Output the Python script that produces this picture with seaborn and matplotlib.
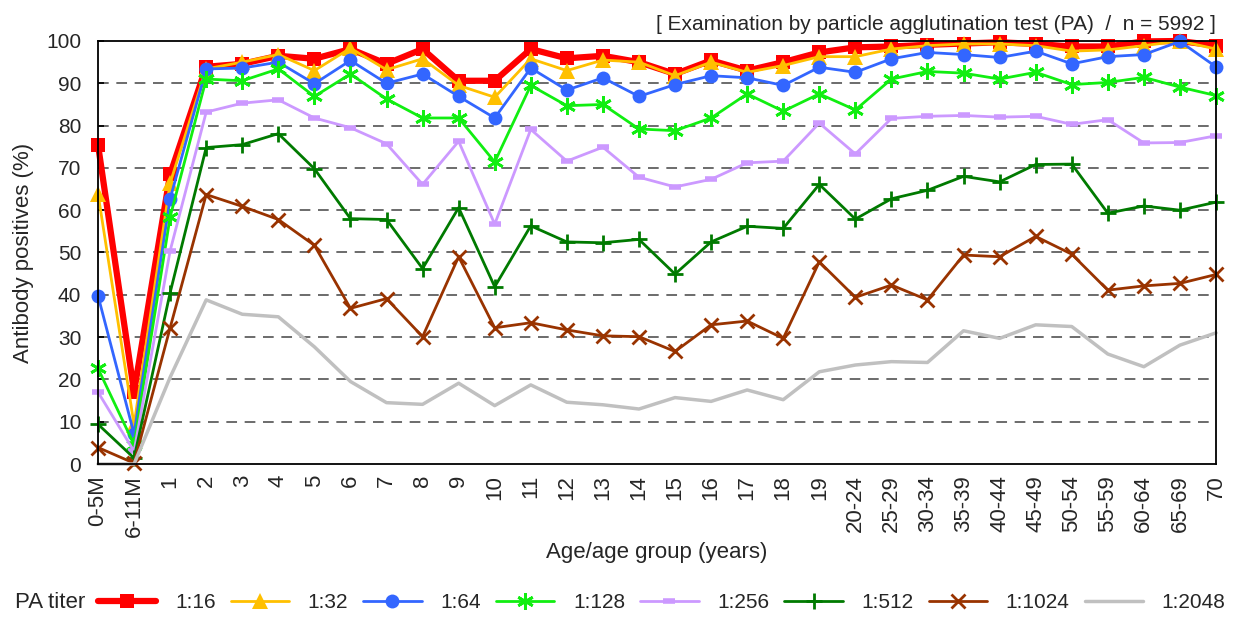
import numpy as np
import pandas as pd
import matplotlib
matplotlib.use("Agg")
import matplotlib.pyplot as plt
import seaborn as sns

categories = ["0-5M", "6-11M", "1", "2", "3", "4", "5", "6", "7", "8", "9", "10",
              "11", "12", "13", "14", "15", "16", "17", "18", "19",
              "20-24", "25-29", "30-34", "35-39", "40-44", "45-49", "50-54",
              "55-59", "60-64", "65-69", "70"]

t16 = [75.5, 17.1, 68.5, 93.9, 94.6, 96.5, 95.8, 98.1, 94.6, 98.1, 90.6, 90.6,
       98.1, 95.9, 96.5, 95.0, 92.2, 95.4, 93.0, 95.0, 97.3,
       98.5, 98.7, 99.1, 99.4, 99.7, 99.3, 98.7, 98.7, 99.9, 100.0, 98.9]
t32 = [63.9, 9.3, 66.4, 93.4, 95.0, 96.8, 93.0, 98.3, 93.2, 95.8, 89.5, 86.7,
       95.8, 93.0, 95.5, 95.0, 91.8, 95.0, 92.6, 94.2, 96.3,
       96.3, 98.1, 98.9, 99.3, 99.3, 98.9, 97.6, 97.9, 98.9, 100.0, 98.1]
t64 = [39.8, 7.1, 62.7, 93.4, 93.6, 95.0, 89.9, 95.4, 90.0, 92.2, 86.9, 81.8,
       93.6, 88.4, 91.3, 86.9, 89.7, 91.8, 91.3, 89.5, 93.8,
       92.6, 95.8, 97.3, 96.8, 96.1, 97.6, 94.6, 96.3, 96.8, 99.9, 93.9]
t128 = [22.6, 4.6, 58.4, 91.0, 90.6, 93.4, 86.9, 92.2, 86.3, 81.8, 81.8, 71.4,
        89.5, 84.7, 85.0, 79.2, 78.8, 81.8, 87.5, 83.4, 87.5,
        83.7, 91.0, 92.8, 92.4, 91.0, 92.6, 89.7, 90.2, 91.4, 89.1, 87.1]
t256 = [17.0, 3.0, 50.4, 83.2, 85.3, 86.1, 81.8, 79.5, 75.7, 66.1, 76.3, 56.7,
        79.1, 71.6, 74.9, 67.8, 65.5, 67.3, 71.2, 71.6, 80.6,
        73.3, 81.7, 82.2, 82.4, 82.0, 82.2, 80.3, 81.4, 75.9, 76.0, 77.6]
t512 = [9.4, 1.4, 40.5, 74.8, 75.5, 78.1, 69.8, 58.0, 57.8, 46.2, 60.6, 41.9,
        56.3, 52.5, 52.3, 53.1, 44.9, 52.5, 56.2, 55.7, 66.1,
        57.9, 62.7, 64.7, 68.0, 66.7, 70.8, 70.9, 59.3, 61.0, 60.0, 61.9]
t1024 = [3.9, 0.2, 32.2, 63.7, 60.9, 57.8, 51.7, 36.8, 39.1, 30.1, 49.0, 32.2,
         33.4, 31.7, 30.3, 30.1, 26.6, 32.9, 33.8, 29.7, 47.8,
         39.4, 42.3, 38.8, 49.4, 49.0, 53.8, 49.6, 41.1, 42.1, 42.7, 44.8]
t2048 = [0.0, 0.0, 20.5, 38.8, 35.4, 34.8, 27.7, 19.5, 14.5, 14.1, 19.1, 13.8,
         18.7, 14.6, 14.0, 13.0, 15.7, 14.8, 17.5, 15.2, 21.8,
         23.4, 24.2, 24.0, 31.5, 29.7, 32.9, 32.5, 26.0, 23.0, 28.1, 31.0]

series_names = ["1:16", "1:32", "1:64", "1:128", "1:256", "1:512", "1:1024", "1:2048"]
series_values = [t16, t32, t64, t128, t256, t512, t1024, t2048]

styles = {
    "1:16":   dict(color="#FF0000", marker="s", lw=4.5, ms=10, mew=0),
    "1:32":   dict(color="#FFC000", marker="^", lw=2.0, ms=11, mew=0),
    "1:64":   dict(color="#3366FF", marker="o", lw=2.0, ms=10, mew=0),
    "1:128":  dict(color="#11EE11", marker=(6, 2, 0), lw=2.0, ms=12, mew=2),
    "1:256":  dict(color="#CC99FF", marker="_", lw=2.0, ms=9, mew=4),
    "1:512":  dict(color="#007A00", marker="+", lw=2.0, ms=12, mew=2),
    "1:1024": dict(color="#993300", marker="x", lw=2.0, ms=10, mew=2),
    "1:2048": dict(color="#C0C0C0", marker=None, lw=2.5, ms=0, mew=0),
}

sns.set_theme(style="white")
plt.rcParams["font.family"] = ["Liberation Sans", "DejaVu Sans"]

fig = plt.figure(figsize=(12.36, 6.22), dpi=100)
ax = fig.add_axes([98 / 1236, 1 - 464 / 622, (1216 - 98) / 1236, (464 - 41) / 622])

xpos = np.arange(len(categories))
for name, vals in zip(series_names, series_values):
    st = styles[name]
    df = pd.DataFrame({"x": xpos, "y": vals})
    sns.lineplot(data=df, x="x", y="y", ax=ax, color=st["color"], lw=st["lw"],
                 marker=st["marker"], markersize=st["ms"], markeredgewidth=st["mew"],
                 markeredgecolor=st["color"], label=name, clip_on=False)

ax.set_xlim(0, len(categories) - 1)
ax.set_ylim(0, 100)
ax.set_yticks(np.arange(0, 101, 10))
ax.set_xticks(xpos)
ax.set_xticklabels(categories, rotation=90, fontsize=16)
ax.tick_params(axis="y", labelsize=15, direction="in", length=4, left=True,
               color="black", pad=12)
ax.tick_params(axis="x", length=0, pad=8)
for yv in range(10, 100, 10):
    ax.axhline(yv, color="#444444", lw=1.1, ls=(0, (7, 5)), zorder=0.5)
for s in ax.spines.values():
    s.set_color("black")
    s.set_linewidth(1.3)

ax.set_xlabel("Age/age group (years)", fontsize=16, labelpad=4)
ax.set_ylabel("Antibody positives (%)", fontsize=16, labelpad=9)
ax.set_title("[ Examination by particle agglutination test (PA)  /  n = 5992 ]",
             loc="right", fontsize=15, pad=8)

handles, labels = ax.get_legend_handles_labels()
ax.get_legend().remove()
fig.text(15 / 1236, 1 - 603 / 622, "PA titer", fontsize=16, va="center", ha="left")
fig.legend(handles, labels, ncol=8, loc="center left",
           bbox_to_anchor=(98 / 1236, 1 - 603 / 622), frameon=False, fontsize=15,
           handlelength=2.8, handletextpad=0.9, columnspacing=0.72, borderaxespad=0,
           borderpad=0)

fig.savefig("out.png", dpi=100)
